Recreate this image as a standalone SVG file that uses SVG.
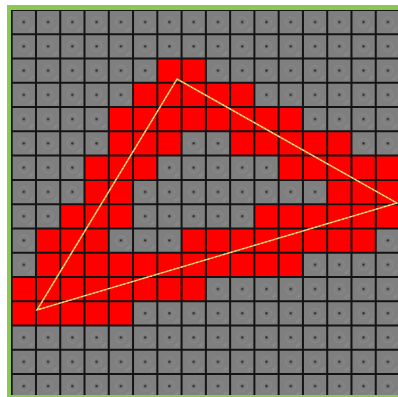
<svg xmlns="http://www.w3.org/2000/svg" width="398" height="397" viewBox="0 0 398 397">
<style>
.red{fill:#ff0000}
.grid{stroke:#141414;stroke-width:2;fill:none}
.edge{fill:none;stroke:#e9a94a;stroke-width:1.6;stroke-linecap:round}
.edge2{fill:none;stroke:#fff2a8;stroke-width:1;stroke-dasharray:2 2}
</style>
<defs>
<clipPath id="area"><rect x="11" y="10" width="387" height="385"/></clipPath>
<pattern id="cell" patternUnits="userSpaceOnUse" x="11.7" y="10" width="24.27" height="24.27">
<rect width="24.27" height="24.27" fill="#7f7f7f"/>
<circle cx="12.1" cy="12.1" r="5" fill="none" stroke="#8c8c8c" stroke-width="0.8"/>
<path d="M17 21 L21 17 M18 22 L22 18" stroke="#939393" stroke-width="0.8"/>
<circle cx="12.1" cy="12.1" r="1.3" fill="#333"/>
</pattern>
</defs>
<rect width="398" height="397" fill="#fff"/>
<rect x="7" y="5" width="391" height="392" fill="#8cc751"/>
<g id="board" clip-path="url(#area)">
<rect x="11" y="10" width="387" height="385" fill="url(#cell)"/>
<g id="raster">
<rect class="red" x="157.32" y="58.54" width="48.54" height="24.27"/>
<rect class="red" x="133.05" y="82.81" width="121.35" height="24.27"/>
<rect class="red" x="108.78" y="107.08" width="194.16" height="24.27"/>
<rect class="red" x="108.78" y="131.35" width="72.81" height="24.27"/>
<rect class="red" x="230.13" y="131.35" width="121.35" height="24.27"/>
<rect class="red" x="84.51" y="155.62" width="72.81" height="24.27"/>
<rect class="red" x="278.67" y="155.62" width="121.35" height="24.27"/>
<rect class="red" x="84.51" y="179.89" width="48.54" height="24.27"/>
<rect class="red" x="327.21" y="179.89" width="72.81" height="24.27"/>
<rect class="red" x="60.24" y="204.16" width="72.81" height="24.27"/>
<rect class="red" x="254.4" y="204.16" width="145.62" height="24.27"/>
<rect class="red" x="35.97" y="228.43" width="72.81" height="24.27"/>
<rect class="red" x="181.59" y="228.43" width="194.16" height="24.27"/>
<rect class="red" x="35.97" y="252.7" width="266.97" height="24.27"/>
<rect class="red" x="11.7" y="276.97" width="194.16" height="24.27"/>
<rect class="red" x="11.7" y="301.24" width="121.35" height="24.27"/>
</g>
<path id="gridlines" class="grid" d="M11.7 10V398 M35.97 10V398 M60.24 10V398 M84.51 10V398 M108.78 10V398 M133.05 10V398 M157.32 10V398 M181.59 10V398 M205.86 10V398 M230.13 10V398 M254.4 10V398 M278.67 10V398 M302.94 10V398 M327.21 10V398 M351.48 10V398 M375.75 10V398 M11 10H398 M11 34.27H398 M11 58.54H398 M11 82.81H398 M11 107.08H398 M11 131.35H398 M11 155.62H398 M11 179.89H398 M11 204.16H398 M11 228.43H398 M11 252.7H398 M11 276.97H398 M11 301.24H398 M11 325.51H398 M11 349.78H398 M11 374.05H398"/>
</g>
<g id="triangle">
<path class="edge" d="M177 79 L397 203 L37 310 Z"/>
<path class="edge2" d="M177 79 L397 203 L37 310 Z"/>
</g>
</svg>
